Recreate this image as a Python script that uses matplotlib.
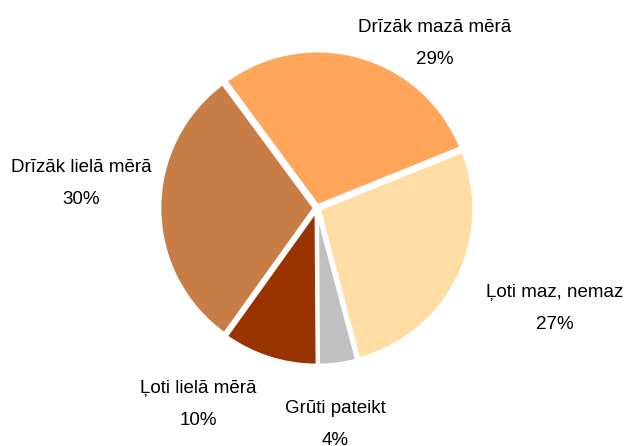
import matplotlib.pyplot as plt

plt.rcParams['font.family'] = ['Liberation Sans', 'DejaVu Sans']

# atbilžu kategorijas pulksteņrādītāja virzienā
labels = ['Ļoti maz, nemaz', 'Grūti pateikt', 'Ļoti lielā mērā', 'Drīzāk lielā mērā', 'Drīzāk mazā mērā']
values = [27, 4, 10, 30, 29]
colors = ['#FFDDA4', '#C0C0C0', '#993300', '#C87D46', '#FFA65A']

# uzrakstu pirmās rindas bāzes līnija (rādiusa vienībās)
label_pos = [(1.535, -0.574), (0.116, -1.323), (-0.768, -1.194), (-1.523, 0.232), (0.761, 1.135)]
line_gap = 0.206

fig = plt.figure(figsize=(6.33, 4.46), dpi=100)
ax = fig.add_axes([0, 0, 1, 1])
ax.pie(values, colors=colors, startangle=22, counterclock=False,
       explode=[0.015] * len(values),
       wedgeprops=dict(edgecolor='white', linewidth=2.5))

for lab, val, (x, y) in zip(labels, values, label_pos):
    ax.text(x, y, lab, ha='center', va='baseline', fontsize=13.5)
    ax.text(x, y - line_gap, f'{val}%', ha='center', va='baseline', fontsize=13.5)

ax.set_xlim(-2.045, 2.039)
ax.set_ylim(-1.535, 1.342)
ax.set_aspect('auto')
ax.axis('off')

fig.savefig('out.png', dpi=100)
